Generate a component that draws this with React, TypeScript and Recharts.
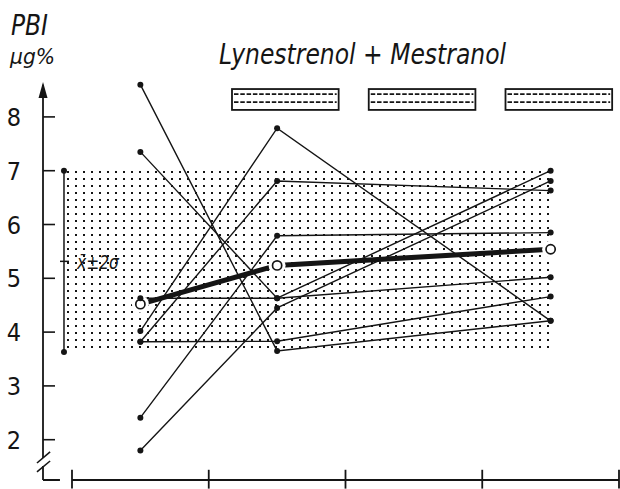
import React from "react";
import {
  ComposedChart,
  Line,
  XAxis,
  YAxis,
  ReferenceArea,
  ReferenceLine,
  ReferenceDot,
} from "recharts";

const FONT = "'Liberation Sans Narrow', 'DejaVu Sans Condensed', sans-serif";
const INK = "#151515";

// x positions of the three sampling times (inside the 4 time bands)
const periods = [0.5, 1.5, 3.5];

// PBI (µg%) per subject: before, during treatment, later in treatment
const subject1 = [8.6, 3.65, 4.21];
const subject2 = [7.35, 4.63, 7.0];
const subject3 = [4.63, 4.63, 5.02];
const subject4 = [4.02, 7.79, 4.21];
const subject5 = [3.82, 6.81, 6.63];
const subject6 = [3.82, 3.83, 4.66];
const subject7 = [2.41, 5.79, 5.85];
const subject8 = [1.8, 4.45, 6.81];
const subjects = [subject1, subject2, subject3, subject4, subject5, subject6, subject7, subject8];

const meanPBI = [4.52, 5.24, 5.54];

// normal range x̄ ± 2σ
const normalRange = [3.63, 7.0];
const bandRange = [3.7, 7.0];

const yTicks = [2, 3, 4, 5, 6, 7, 8];
const xTicks = [0, 1, 2, 3, 4];
const treatmentPeriods = [1, 2, 3];

const X_MIN = -0.212;
const X_MAX = 4;
const Y_MIN = 1.251;
const Y_MAX = 8.686;

const toRows = (vals: number[]) => periods.map((x, i) => ({ x, v: vals[i] }));

const YTick = (props: any) => {
  const { x, y, payload } = props;
  return (
    <g>
      <line x1={x} x2={x + 12} y1={y} y2={y} stroke={INK} strokeWidth={1.6} />
      <text
        x={x - 29}
        y={y + 9}
        textAnchor="middle"
        fontFamily={FONT}
        fontSize={25}
        fill={INK}
      >
        {payload.value}
      </text>
    </g>
  );
};

const StippleBand = (props: any) => {
  const { x, y, width, height } = props;
  const x0 = Math.round(x);
  const y0 = Math.round(y);
  return (
    <g>
      <defs>
        <pattern id="stipple" x={x0} y={y0} width={8} height={7} patternUnits="userSpaceOnUse">
          <rect x={1} y={0} width={2} height={2} fill={INK} />
        </pattern>
      </defs>
      <rect x={x0} y={y0} width={width} height={height + 2} fill="url(#stipple)" />
    </g>
  );
};

const TreatmentBar = (props: any) => {
  const { x, y, width, height } = props;
  return (
    <g stroke={INK}>
      <rect x={x} y={y} width={width} height={height} fill="#fff" strokeWidth={1.8} />
      <line x1={x + 2} x2={x + width - 2} y1={y + 5} y2={y + 5} strokeWidth={1.8} strokeDasharray="4.5 1.8" />
      <line x1={x + 2} x2={x + width - 2} y1={y + 13} y2={y + 13} strokeWidth={1.8} strokeDasharray="4.5 1.8" />
    </g>
  );
};

const Arrow = (props: any) => {
  const { cx, cy } = props;
  return <polygon points={`${cx},${cy} ${cx - 4.5},${cy + 16} ${cx + 4.5},${cy + 16}`} fill={INK} />;
};

const RangeMark = (props: any) => {
  const { cx, cy } = props;
  return (
    <g>
      <line x1={cx - 4} x2={cx + 5} y1={cy} y2={cy} stroke={INK} strokeWidth={1.5} />
      <text x={cx + 13} y={cy + 8} fontFamily={FONT} fontStyle="italic" fontSize={20} fill={INK} textLength={42} lengthAdjust="spacingAndGlyphs">
        x̄±2σ
      </text>
    </g>
  );
};

const MeanDot = (props: any) => {
  const { cx, cy, index } = props;
  return (
    <g key={`mean-${index}`}>
      <circle cx={cx} cy={cy} r={8.5} fill="#fff" />
      <circle cx={cx} cy={cy} r={4.6} fill="#fff" stroke={INK} strokeWidth={1.7} />
    </g>
  );
};

const seg = (x1: number, y1: number, x2: number, y2: number) => [
  { x: x1, y: y1 },
  { x: x2, y: y2 },
];

export default function App() {
  const rangeX = -0.0585;
  const rangeMid = (normalRange[0] + normalRange[1]) / 2;
  return (
    <div style={{ position: "absolute", left: 0, top: 0, width: 620, height: 489, background: "#fff" }}>
      <ComposedChart width={620} height={489} margin={{ top: 80, right: 1, bottom: 9, left: 0 }}>
        <XAxis type="number" dataKey="x" domain={[X_MIN, X_MAX]} allowDataOverflow hide />
        <YAxis
          type="number"
          domain={[Y_MIN, Y_MAX]}
          ticks={yTicks}
          allowDataOverflow
          width={43}
          axisLine={false}
          tickLine={false}
          tickSize={0}
          tickMargin={0}
          tick={<YTick />}
        />

        <ReferenceArea
          x1={-0.044}
          x2={3.51}
          y1={bandRange[0]}
          y2={bandRange[1]}
          shape={<StippleBand />}
          ifOverflow="visible"
        />

        {treatmentPeriods.map((p) => (
          <ReferenceArea
            key={`treat-${p}`}
            x1={p + 0.17}
            x2={p + 0.95}
            y1={8.13}
            y2={8.518}
            shape={<TreatmentBar />}
            ifOverflow="visible"
          />
        ))}

        {/* y axis with arrow and break */}
        <ReferenceLine segment={seg(X_MIN, 8.6, X_MIN, 1.66)} stroke={INK} strokeWidth={1.8} ifOverflow="visible" />
        <ReferenceDot x={X_MIN} y={8.65} r={0} shape={<Arrow />} ifOverflow="visible" />
        <ReferenceLine segment={seg(-0.256, 1.567, -0.16, 1.772)} stroke={INK} strokeWidth={1.6} ifOverflow="visible" />
        <ReferenceLine segment={seg(-0.256, 1.4, -0.16, 1.604)} stroke={INK} strokeWidth={1.6} ifOverflow="visible" />
        <ReferenceLine segment={seg(X_MIN, 1.51, X_MIN, Y_MIN)} stroke={INK} strokeWidth={1.8} ifOverflow="visible" />
        <ReferenceLine segment={seg(X_MIN, Y_MIN, -0.088, Y_MIN)} stroke={INK} strokeWidth={2} ifOverflow="visible" />

        {/* x axis */}
        <ReferenceLine segment={seg(0, Y_MIN, X_MAX, Y_MIN)} stroke={INK} strokeWidth={2} ifOverflow="visible" />
        {xTicks.map((t) => (
          <ReferenceLine
            key={`xt-${t}`}
            segment={seg(t, Y_MIN + 0.19, t, Y_MIN - 0.16)}
            stroke={INK}
            strokeWidth={1.8}
            ifOverflow="visible"
          />
        ))}

        {/* normal range bar */}
        <ReferenceLine segment={seg(rangeX, normalRange[0], rangeX, normalRange[1])} stroke={INK} strokeWidth={1.5} ifOverflow="visible" />
        <ReferenceDot x={rangeX} y={normalRange[0]} r={3} fill={INK} stroke="none" ifOverflow="visible" />
        <ReferenceDot x={rangeX} y={normalRange[1]} r={3} fill={INK} stroke="none" ifOverflow="visible" />
        <ReferenceDot x={rangeX} y={rangeMid} r={0} shape={<RangeMark />} ifOverflow="visible" />

        <Line
          data={toRows(meanPBI)}
          dataKey="v"
          type="linear"
          stroke={INK}
          strokeWidth={5}
          dot={MeanDot}
          activeDot={false}
          isAnimationActive={false}
        />

        {subjects.map((s, i) => (
          <Line
            key={`s-${i}`}
            data={toRows(s)}
            dataKey="v"
            type="linear"
            stroke={INK}
            strokeWidth={1.4}
            dot={{ r: 3, fill: INK, stroke: "none" }}
            activeDot={false}
            isAnimationActive={false}
          />
        ))}
      </ComposedChart>

      <svg width={620} height={90} style={{ position: "absolute", left: 0, top: 0, pointerEvents: "none" }}>
        <text x={11} y={35} fontFamily={FONT} fontStyle="italic" fontSize={29} fill={INK} textLength={37} lengthAdjust="spacingAndGlyphs">
          PBI
        </text>
        <text x={10} y={64} fontFamily={FONT} fontStyle="italic" fontSize={22} fill={INK} textLength={45} lengthAdjust="spacingAndGlyphs">
          µg%
        </text>
        <text x={219} y={64} fontFamily={FONT} fontStyle="italic" fontSize={28} fill={INK} textLength={287} lengthAdjust="spacingAndGlyphs">
          Lynestrenol + Mestranol
        </text>
      </svg>
    </div>
  );
}
